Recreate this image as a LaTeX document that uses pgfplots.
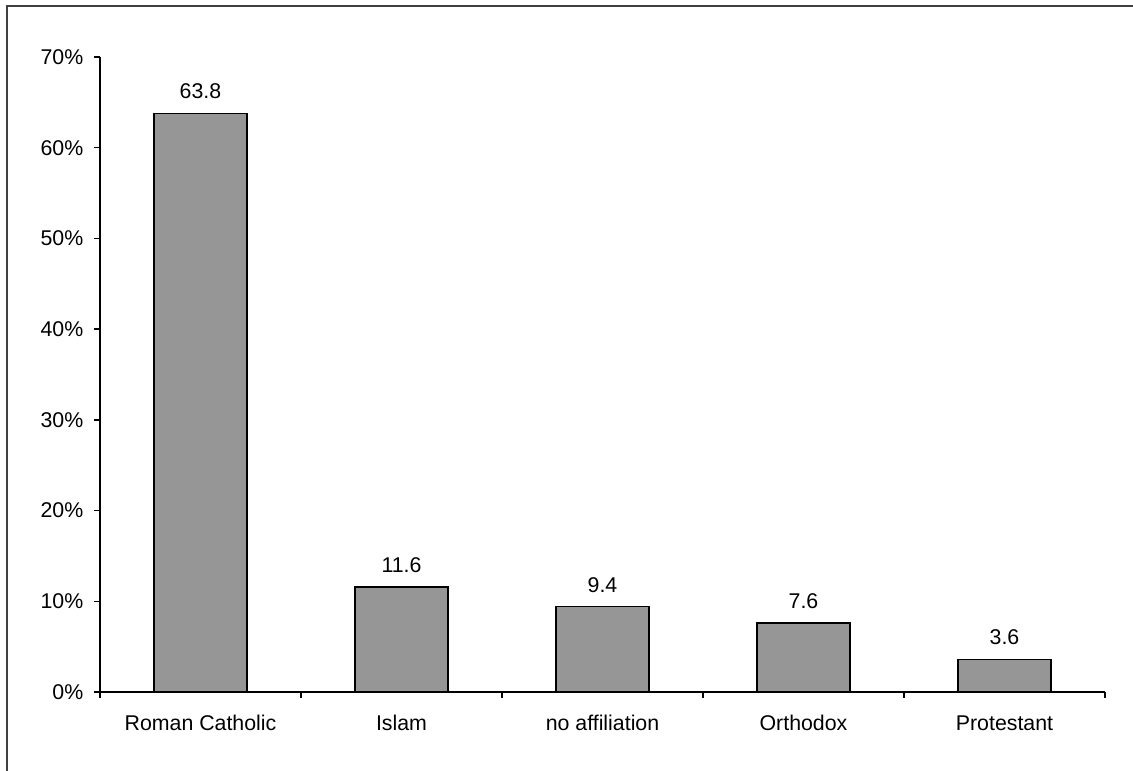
\documentclass[border=0pt]{standalone}
\usepackage{fontspec}
\setmainfont{Liberation Sans}
\usepackage{pgfplots}
\pgfplotsset{compat=1.18}
\definecolor{bargray}{HTML}{969696}
\begin{document}
\begin{tikzpicture}
\fontsize{16}{19}\selectfont
\begin{axis}[
    at={(0,0)}, anchor=south west,
    width=753.75pt, height=476.25pt,
    scale only axis,
    axis lines=left,
    axis line style={line width=1.1pt, -},
    xmin=0, xmax=5,
    ymin=0, ymax=70,
    ybar, bar width=69.75pt, bar shift=0pt,
    ytick={0,10,...,70},
    yticklabel={\pgfmathprintnumber{\tick}\%},
    y tick label style={xshift=-2.5pt},
    xtick={0,1,...,5},
    xticklabels={},
    extra x ticks={0.5,1.5,2.5,3.5,4.5},
    extra x tick labels={Roman Catholic, Islam, no affiliation, Orthodox, Protestant},
    extra x tick style={major tick length=0pt, tick label style={yshift=-12pt}},
    tick align=outside,
    major tick length=4.5pt,
    tick style={line width=1.1pt, black},
    tick label style={font=\fontsize{16}{19}\selectfont},
    /pgf/number format/assume math mode=true,
    nodes near coords={\pgfmathprintnumber[fixed,precision=1,fixed zerofill]{\pgfplotspointmeta}},
    nodes near coords style={font=\fontsize{16}{19}\selectfont, anchor=south, yshift=5pt},
    clip=false,
]
\addplot[fill=bargray, draw=black, line width=1.1pt] coordinates {
    (0.5,63.8) (1.5,11.6) (2.5,9.4) (3.5,7.6) (4.5,3.6)
};
\end{axis}
\useasboundingbox (-75pt,-59.25pt) rectangle (774.75pt,519pt);
\draw[black!75, line width=1.5pt] (-69.75pt,-80pt) -- (-69.75pt,514.5pt) -- (800pt,514.5pt);
\end{tikzpicture}
\end{document}
